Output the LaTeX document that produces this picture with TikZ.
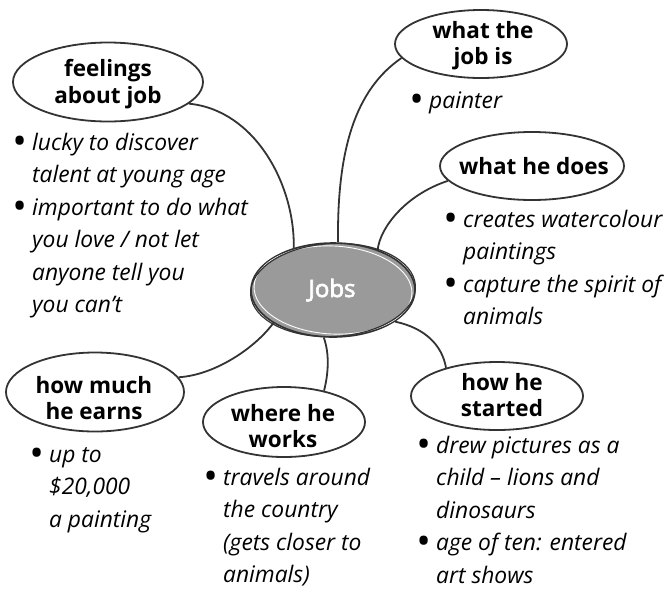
\documentclass[tikz,border=0pt]{standalone}
\usepackage{fontspec}
\setmainfont{Open Sans}
\usetikzlibrary{shapes.geometric}
\definecolor{ink}{HTML}{333333}
\definecolor{hub}{HTML}{9A9A9A}
\newcommand\bul{\llap{\upshape\raisebox{-0.1ex}{\scalebox{1.3}{\bfseries\textbullet}}\hspace{7pt}}}
\newcommand\heavytext[1]{\special{pdf:code q 1 1 1 RG 0.7 w 2 Tr}#1\special{pdf:code 0 Tr Q}}
\begin{document}
\begin{tikzpicture}[x=1pt,y=-1pt,
  bubble/.style={ellipse, draw=ink, line width=1.8pt, inner sep=0pt},
  head/.style={font=\fontsize{22.5}{26.5}\selectfont\bfseries, align=center, inner sep=0pt},
  notes/.style={anchor=base west, inner sep=0pt, font=\fontsize{22.8}{32.5}\selectfont\itshape},
  link/.style={draw=ink, line width=1.8pt}]
\useasboundingbox (0,0) rectangle (664,590);

% central hub
\node[ellipse, fill=hub, draw=ink, line width=1.6pt, minimum width=164pt, minimum height=94pt, inner sep=0pt] (c) at (333,290) {};
\draw[white, line width=0.9pt] (c.center) ellipse [x radius=79pt, y radius=44pt, rotate=-3];
\draw[ink, line width=1.2pt] (c.center) ellipse [x radius=82.5pt, y radius=46.5pt, rotate=3];
\node[font=\fontsize{24}{26}\selectfont, text=white, anchor=base, inner sep=0pt] (ct) at (332,297) {\heavytext{Jobs}};

% topic bubbles
\node[bubble, minimum width=190pt, minimum height=79pt] (f) at (108,82) {};
\node[head] (ft) at (108,84) {feelings\\about job};
\node[bubble, minimum width=172pt, minimum height=68pt] (j) at (481,44) {};
\node[head] (jt) at (483,45.5) {what the\\job is};
\node[bubble, minimum width=184pt, minimum height=68pt] (d) at (532,166) {};
\node[head] (dt) at (534,166.5) {what he does};
\node[bubble, minimum width=178pt, minimum height=79pt] (e) at (95,392) {};
\node[head] (et) at (94,398) {how much\\he earns};
\node[bubble, minimum width=162pt, minimum height=70pt] (w) at (284,422) {};
\node[head] (wt) at (283,426) {where he\\works};
\node[bubble, minimum width=172pt, minimum height=68pt] (s) at (497,396) {};
\node[head] (st) at (502,395) {how he\\started};

% connectors
\draw[link] (f.-15) .. controls (255,110) and (295,185) .. (c.133);
\draw[link] (j.190) .. controls (355,90) and (337,150) .. (c.84);
\draw[link] (d.190) .. controls (405,195) and (380,228) .. (c.42);
\draw[link] (e.10) .. controls (215,375) and (255,348) .. (c.209);
\draw[link] (c.259) .. controls (330,355) and (328,375) .. (w.38);
\draw[link] (c.-27) .. controls (425,328) and (442,345) .. (s.151);

% notes
\node[notes] (fn) at (32,150) {\begin{tabular}[t]{@{}l@{}}
\bul lucky to discover\\
talent at young age\\
\bul important to do what\\
you love / not let\\
anyone tell you\\
you can’t\end{tabular}};
\node[notes] (jn) at (429,108) {\begin{tabular}[t]{@{}l@{}}
\bul painter\end{tabular}};
\node[notes] (dn) at (463,227) {\begin{tabular}[t]{@{}l@{}}
\bul creates watercolour\\
paintings\\
\bul capture the spirit of\\
animals\end{tabular}};
\node[notes] (en) at (49,462) {\begin{tabular}[t]{@{}l@{}}
\bul up to\\
\$20,000\\
a painting\end{tabular}};
\node[notes] (wn) at (223,485) {\begin{tabular}[t]{@{}l@{}}
\bul travels around\\
the country\\
(gets closer to\\
animals)\end{tabular}};
\node[notes] (sn) at (436,453) {\begin{tabular}[t]{@{}l@{}}
\bul drew pictures as a\\
child – lions and\\
dinosaurs\\
\bul age of ten: entered\\
art shows\end{tabular}};
\end{tikzpicture}
\end{document}
